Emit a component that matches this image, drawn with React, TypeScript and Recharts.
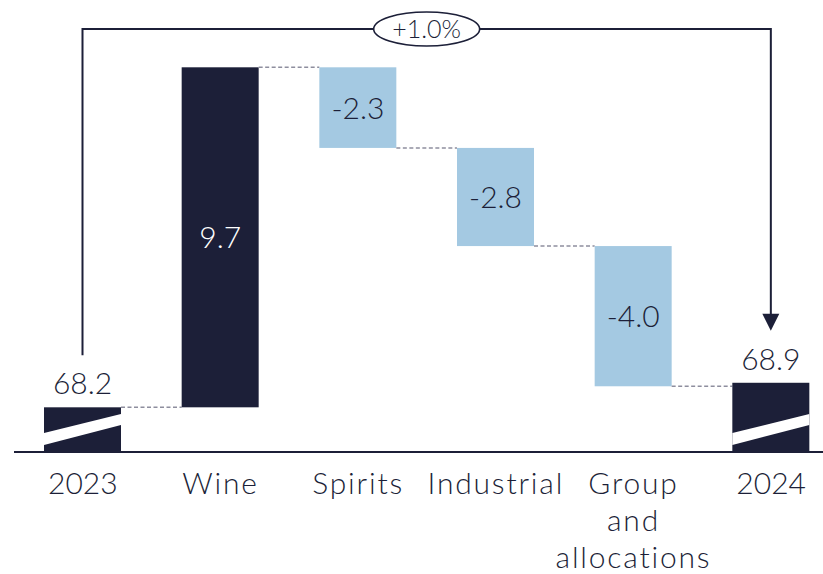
import React from 'react';
import { BarChart, Bar, XAxis, YAxis } from 'recharts';

// ---- data ----
const categories = ['2023', 'Wine', 'Spirits', 'Industrial', 'Group\nand\nallocations', '2024'];
const startValue = 68.2;
const segmentDeltas = [9.7, -2.3, -2.8, -4.0];
const endValue = 68.9;
const valueLabels = ['68.2', '9.7', '-2.3', '-2.8', '-4.0', '68.9'];
const changeLabel = '+1.0%';

// broken value axis: visible range
const AXIS_BREAK_BASE = 66.925;
const Y_TOP = 79.82;

// ---- style ----
const NAVY = '#1c1f38';
const LIGHT_BLUE = '#a4c9e2';
const DASH = '#8e8e9e';
const FONT = 'Lato, "DejaVu Sans", sans-serif';
const WEIGHT = 300;

const W = 823;
const H = 574;
const MARGIN = { top: 0, right: -17, left: 14, bottom: 0 };
const PLOT_W = W - MARGIN.left - MARGIN.right;
const BAND = PLOT_W / categories.length;
const BAR_SIZE = 77;
const BRACKET_Y = 29;

type Row = { name: string; range: [number, number]; kind: 'total' | 'up' | 'down'; label: string };

const data: Row[] = [];
data.push({ name: categories[0], range: [AXIS_BREAK_BASE, startValue], kind: 'total', label: valueLabels[0] });
let level = startValue;
segmentDeltas.forEach((d, i) => {
  const next = level + d;
  data.push({
    name: categories[i + 1],
    range: [Math.min(level, next), Math.max(level, next)],
    kind: d >= 0 ? 'up' : 'down',
    label: valueLabels[i + 1],
  });
  level = next;
});
data.push({ name: categories[5], range: [AXIS_BREAK_BASE, endValue], kind: 'total', label: valueLabels[5] });

function WaterfallBar(props: any) {
  const { x, y, width, height, payload, index } = props;
  const n = data.length;
  const row = payload as Row;
  const bottom = y + height;
  const cx = x + width / 2;
  const fill = row.kind === 'down' ? LIGHT_BLUE : NAVY;
  const els: React.ReactNode[] = [];
  els.push(<rect key="r" x={x} y={y} width={width} height={height} fill={fill} />);
  if (row.kind === 'total') {
    els.push(
      <polygon
        key="brk"
        points={`${x},${bottom - 19} ${x + width},${bottom - 38} ${x + width},${bottom - 27} ${x},${bottom - 7}`}
        fill="#ffffff"
      />
    );
    els.push(
      <text key="t" x={cx} y={y - 13} textAnchor="middle" fontSize={30} fontWeight={WEIGHT} fill={NAVY} fontFamily={FONT}>
        {row.label}
      </text>
    );
  } else {
    els.push(
      <text
        key="t"
        x={cx}
        y={y + height / 2 + 11}
        textAnchor="middle"
        fontSize={30}
        fontWeight={WEIGHT}
        fill={row.kind === 'up' ? '#ffffff' : NAVY}
        fontFamily={FONT}
      >
        {row.label}
      </text>
    );
  }
  if (index < n - 1) {
    const ly = row.kind === 'down' ? bottom : y;
    els.push(
      <line
        key="c"
        x1={x + width}
        x2={x + BAND}
        y1={ly}
        y2={ly}
        stroke={DASH}
        strokeWidth={1.5}
        strokeDasharray="4 2.5"
      />
    );
  }
  if (index === 0) {
    els.push(<line key="bl" x1={cx} x2={cx} y1={y - 52} y2={BRACKET_Y - 1} stroke={NAVY} strokeWidth={2} />);
  }
  if (index === n - 1) {
    const firstCx = cx - (n - 1) * BAND;
    const tip = y - 52;
    const midX = (firstCx + cx) / 2;
    els.push(
      <path
        key="br"
        d={`M${firstCx},${BRACKET_Y} L${cx},${BRACKET_Y} L${cx},${tip - 16}`}
        fill="none"
        stroke={NAVY}
        strokeWidth={2}
      />
    );
    els.push(
      <polygon key="ar" points={`${cx - 8.5},${tip - 17} ${cx + 8.5},${tip - 17} ${cx},${tip}`} fill={NAVY} />
    );
    els.push(
      <ellipse key="el" cx={midX} cy={BRACKET_Y} rx={53} ry={17} fill="#ffffff" stroke={NAVY} strokeWidth={1.6} />
    );
    els.push(
      <text key="pct" x={midX} y={BRACKET_Y + 9} textAnchor="middle" fontSize={25} fontWeight={WEIGHT} fill={NAVY} fontFamily={FONT}>
        {changeLabel}
      </text>
    );
  }
  return <g>{els}</g>;
}

function CategoryTick(props: any) {
  const { x, y, payload } = props;
  const lines = String(payload.value).split('\n');
  return (
    <text x={x} y={y} textAnchor="middle" fontFamily={FONT} fontSize={30} fontWeight={WEIGHT} fill={NAVY}>
      {lines.map((l, i) => (
        <tspan key={i} x={x} dy={i === 0 ? 42 : 37} letterSpacing={/^\d+$/.test(l) ? 0 : 1.8}>
          {l}
        </tspan>
      ))}
    </text>
  );
}

export default function App() {
  return (
    <div style={{ position: 'absolute', left: 0, top: 0, width: W, height: H, background: '#ffffff' }}>
      <BarChart width={W} height={H} data={data} margin={MARGIN} barCategoryGap={0}>
        <XAxis
          dataKey="name"
          height={122}
          interval={0}
          tickLine={false}
          tickSize={0}
          tickMargin={0}
          axisLine={{ stroke: NAVY, strokeWidth: 2 }}
          tick={<CategoryTick />}
        />
        <YAxis hide domain={[AXIS_BREAK_BASE, Y_TOP]} allowDataOverflow type="number" />
        <Bar dataKey="range" barSize={BAR_SIZE} shape={WaterfallBar} isAnimationActive={false} />
      </BarChart>
    </div>
  );
}
